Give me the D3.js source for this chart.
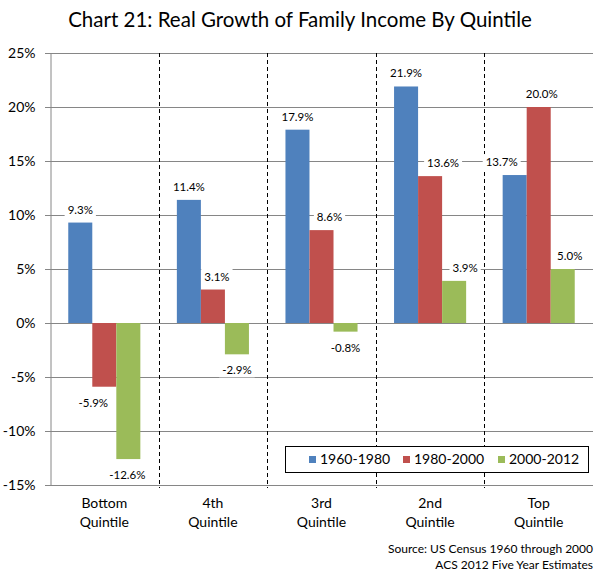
<!DOCTYPE html>
<html>
<head>
<meta charset="utf-8">
<script src="https://cdn.jsdelivr.net/npm/d3@7"></script>
<style>
  body { margin: 0; background: #fff; }
  svg text { font-family: Lato, "Open Sans", sans-serif; fill: #000; }
</style>
</head>
<body>
<div id="chart"></div>
<script>
const categories = [['Bottom', 'Quintile'], ['4th', 'Quintile'], ['3rd', 'Quintile'], ['2nd', 'Quintile'], ['Top', 'Quintile']]
const seriesNames = ['1960-1980', '1980-2000', '2000-2012']
const values1960 = [9.3, 11.4, 17.9, 21.9, 13.7]
const values1980 = [-5.9, 3.1, 8.6, 13.6, 20.0]
const values2000 = [-12.6, -2.9, -0.8, 3.9, 5.0]
const yTicks = [-15, -10, -5, 0, 5, 10, 15, 20, 25]

const colors = ['#4F81BD', '#C0504D', '#9BBB59']
// small sideways nudges Excel applied to some labels
const labelDx = [[0, 0, 0, 0, -13], [-11, 4, 8, 13, 3], [-1, 0, 0, 11, 7]]

const W = 603, H = 577
const plot = { left: 50, right: 593, top: 53, bottom: 485 }

const svg = d3.select('#chart').append('svg').attr('width', W).attr('height', H)

const keys = categories.map(c => c.join(' '))
const rows = keys.map((k, i) => ({ key: k, vals: [values1960[i], values1980[i], values2000[i]] }))

const x = d3.scaleBand().domain(keys).range([plot.left, plot.right])
const x1 = d3.scaleBand().domain(seriesNames).range([0, x.bandwidth()]).paddingOuter(0.76)
const y = d3.scaleLinear().domain([-15, 25]).range([plot.bottom, plot.top])

// title
svg.append('text')
  .attr('x', 300).attr('y', 27)
  .attr('text-anchor', 'middle')
  .style('font-size', '20.5px')
  .text('Chart 21: Real Growth of Family Income By Quintile')

// gridlines (also act as tick marks)
svg.append('g').selectAll('line').data(yTicks).join('line')
  .attr('x1', plot.left - 5).attr('x2', plot.right)
  .attr('y1', d => Math.round(y(d)) + 0.5).attr('y2', d => Math.round(y(d)) + 0.5)
  .attr('stroke', '#868686')

const yAxis = svg.append('g')
  .attr('transform', `translate(${plot.left + 0.5},0)`)
  .call(d3.axisLeft(y).tickValues(yTicks).tickFormat(d => d + '%').tickSize(5).tickPadding(10))
yAxis.select('.domain').attr('stroke', '#868686')
yAxis.selectAll('.tick line').attr('stroke', '#868686')
yAxis.selectAll('text').style('font-size', '14px').style('font-family', 'Lato, sans-serif').attr('fill', '#000')

// dashed separators between groups
svg.append('g').selectAll('line').data(keys.slice(1)).join('line')
  .attr('x1', d => Math.round(x(d)) + 0.5).attr('x2', d => Math.round(x(d)) + 0.5)
  .attr('y1', plot.top).attr('y2', plot.bottom + 3)
  .attr('stroke', '#000')
  .attr('stroke-dasharray', '4,3')

// bars
const groups = svg.append('g').selectAll('g').data(rows).join('g')
  .attr('transform', d => `translate(${x(d.key)},0)`)

groups.selectAll('rect').data(d => d.vals.map((v, s) => ({ v, s })))
  .join('rect')
  .attr('x', d => x1(seriesNames[d.s]))
  .attr('width', x1.bandwidth())
  .attr('y', d => y(Math.max(0, d.v)))
  .attr('height', d => Math.abs(y(d.v) - y(0)))
  .attr('fill', d => colors[d.s])

// data labels with white background
const labels = svg.append('g')
rows.forEach((r, i) => {
  r.vals.forEach((v, s) => {
    const cx = x(r.key) + x1(seriesNames[s]) + x1.bandwidth() / 2 + labelDx[s][i]
    const by = v >= 0 ? y(v) - 9 : y(v) + 20
    const g = labels.append('g')
    const t = g.append('text')
      .attr('x', cx).attr('y', by)
      .attr('text-anchor', 'middle')
      .style('font-size', '11.5px')
      .text(v.toFixed(1) + '%')
    const bb = t.node().getBBox()
    g.insert('rect', 'text')
      .attr('x', bb.x - 3).attr('y', bb.y - 1)
      .attr('width', bb.width + 6).attr('height', bb.height + 2)
      .attr('fill', '#fff')
  })
})

// category labels
const catLabels = svg.append('g').selectAll('text').data(categories).join('text')
  .attr('text-anchor', 'middle')
  .style('font-size', '14px')
  .attr('transform', (d, i) => `translate(${x(keys[i]) + x.bandwidth() / 2},0)`)
catLabels.selectAll('tspan').data(d => d).join('tspan')
  .attr('x', 0)
  .attr('y', (d, i) => 508 + i * 19)
  .text(d => d)

// legend
const legend = svg.append('g')
legend.append('rect')
  .attr('x', 285.5).attr('y', 446.5).attr('width', 303).attr('height', 26)
  .attr('fill', '#fff').attr('stroke', '#000')
const legendX = [309, 403, 498]
seriesNames.forEach((n, s) => {
  legend.append('rect').attr('x', legendX[s]).attr('y', 456).attr('width', 7).attr('height', 7).attr('fill', colors[s])
  legend.append('text').attr('x', legendX[s] + 11).attr('y', 464).style('font-size', '14px').text(n)
})

// source note
svg.append('text').attr('x', plot.right).attr('y', 553).attr('text-anchor', 'end')
  .style('font-size', '12px').text('Source: US Census 1960 through 2000')
svg.append('text').attr('x', plot.right).attr('y', 569).attr('text-anchor', 'end')
  .style('font-size', '12px').text('ACS 2012 Five Year Estimates')
</script>
</body>
</html>
